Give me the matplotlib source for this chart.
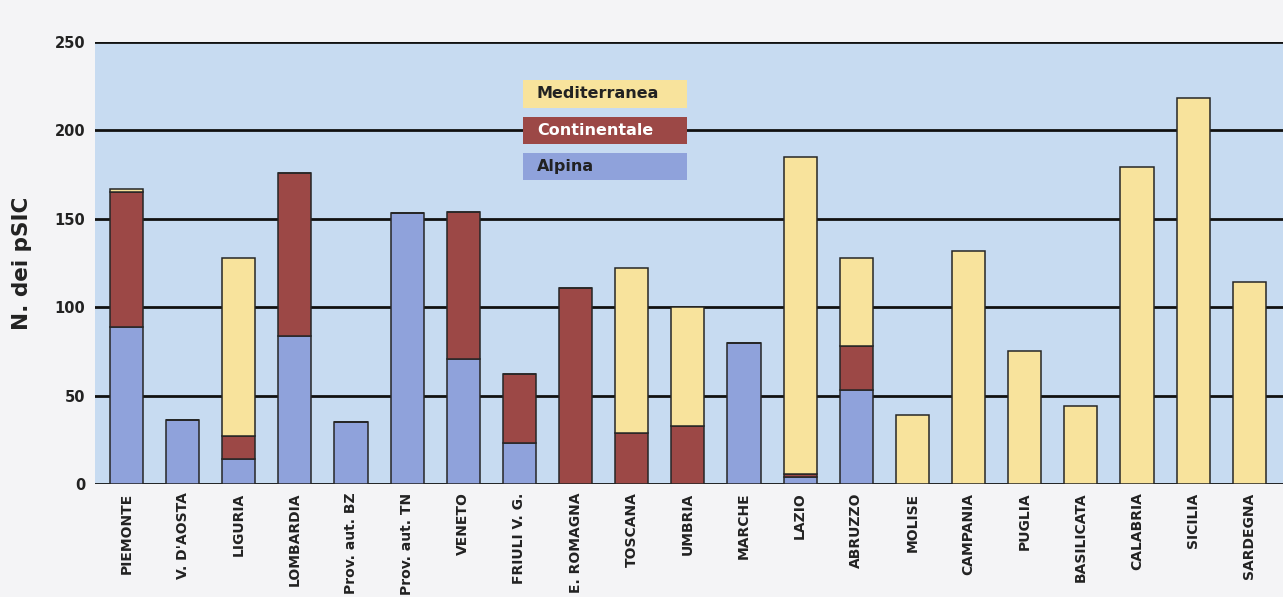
import numpy as np
import matplotlib
matplotlib.use("Agg")
from matplotlib import pyplot as plt
from matplotlib.patches import Rectangle

regions = ['PIEMONTE', "V. D'AOSTA", 'LIGURIA', 'LOMBARDIA', 'Prov. aut. BZ',
           'Prov. aut. TN', 'VENETO', 'FRIULI V. G.', 'E. ROMAGNA', 'TOSCANA',
           'UMBRIA', 'MARCHE', 'LAZIO', 'ABRUZZO', 'MOLISE', 'CAMPANIA',
           'PUGLIA', 'BASILICATA', 'CALABRIA', 'SICILIA', 'SARDEGNA']
alpina = [89, 36, 14, 84, 35, 153, 71, 23, 0, 0, 0, 80, 4, 53, 0, 0, 0, 0, 0, 0, 0]
continentale = [76, 0, 13, 92, 0, 0, 83, 39, 111, 29, 33, 0, 2, 25, 0, 0, 0, 0, 0, 0, 0]
mediterranea = [2, 0, 101, 0, 0, 0, 0, 0, 0, 93, 67, 0, 179, 50, 39, 132, 75, 44, 179, 218, 114]
yticks = [0, 50, 100, 150, 200, 250]

c_alp = '#8fa2db'
c_con = '#9c4846'
c_med = '#f8e39c'
bg = '#c7dbf1'

alpina = np.array(alpina)
continentale = np.array(continentale)
mediterranea = np.array(mediterranea)
x = np.arange(len(regions))

fig = plt.figure(figsize=(12.83, 5.97), dpi=100, facecolor='#f4f4f6')
ax = fig.add_axes([0.074, 0.189, 0.926, 0.741])
ax.set_facecolor(bg)

w = 0.59
edge = dict(edgecolor='#262626', linewidth=1.1)
ax.bar(x, alpina, w, color=c_alp, **edge)
ax.bar(x, continentale, w, bottom=alpina, color=c_con, **edge)
ax.bar(x, mediterranea, w, bottom=alpina + continentale, color=c_med, **edge)

ax.set_xlim(-0.56, len(regions) - 0.4)
ax.set_ylim(0, 250)
ax.set_yticks(yticks)
ax.set_yticklabels([str(t) for t in yticks], fontsize=10.5, fontweight='bold')
ax.set_xticks(x)
ax.set_xticklabels(regions, rotation=90, fontsize=10, fontweight='bold', va='top')
ax.tick_params(axis='both', length=0, pad=7, colors='#222222')
ax.tick_params(axis='x', pad=6)
ax.yaxis.grid(True, color='#111111', linewidth=2)
ax.set_axisbelow(True)
for s in ax.spines.values():
    s.set_visible(False)

ax.set_ylabel('N. dei pSIC', fontsize=15.5, fontweight='bold', color='#222222')
ax.yaxis.set_label_coords(-0.053, 0.5)

# legend boxes
leg = [('Mediterranea', c_med, '#222222', 0.851, 0.914),
       ('Continentale', c_con, 'white', 0.769, 0.830),
       ('Alpina', c_alp, '#222222', 0.688, 0.749)]
for name, col, tcol, y0, y1 in leg:
    ax.add_patch(Rectangle((0.360, y0), 0.138, y1 - y0, transform=ax.transAxes,
                           facecolor=col, edgecolor='none', zorder=5))
    ax.text(0.372, (y0 + y1) / 2, name, transform=ax.transAxes, fontsize=11.5,
            fontweight='bold', color=tcol, va='center', ha='left', zorder=6)

fig.savefig('out.png', dpi=100, facecolor=fig.get_facecolor())
